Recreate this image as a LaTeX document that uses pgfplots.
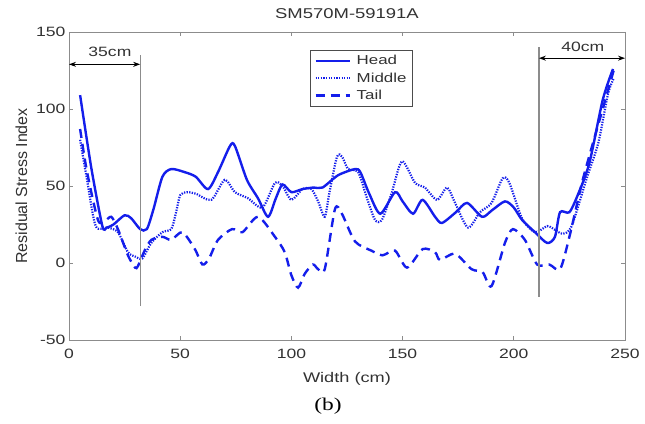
\documentclass[border=0pt]{standalone}
\usepackage{pgfplots}
\pgfplotsset{compat=1.18}
\usepackage{fontspec}
\setmainfont{Liberation Sans}[FakeStretch=1.3]
\newfontfamily\ylabfont{Liberation Sans}
\newfontfamily\capfont{Liberation Serif}[FakeStretch=1.3]
\usetikzlibrary{calc,arrows.meta}
\definecolor{lineblue}{RGB}{20,30,235}
\definecolor{axgray}{RGB}{140,140,140}
\definecolor{txtgray}{RGB}{50,50,50}

\begin{document}
\begin{tikzpicture}
\begin{axis}[
  scale only axis, width=556pt, height=308pt,
  xmin=0, xmax=250, ymin=-50, ymax=150,
  xtick={0,50,...,250}, ytick={-50,0,...,150},
  /pgf/number format/assume math mode=true,
  tick align=inside, major tick length=4pt,
  axis line style={axgray, line width=0.8pt},
  tick style={axgray, line width=0.7pt},
  tick label style={font=\fontsize{13.5}{15}\selectfont, text=txtgray},
  xticklabel style={yshift=-6pt},
  clip=false,
  title={SM570M-59191A},
  title style={at={(axis description cs:0.5,1.0227)}, anchor=base, font=\fontsize{14.2}{16}\selectfont, inner sep=0pt, text=txtgray},
  xlabel={Width (cm)},
  xlabel style={at={(axis description cs:0.5,-0.1364)}, anchor=base, font=\fontsize{14}{16}\selectfont, inner sep=0pt, text=txtgray},
  ylabel={\ylabfont Residual Stress Index},
  ylabel style={at={(axis description cs:-0.0755,0.5)}, anchor=base, font=\fontsize{16}{18}\selectfont, inner sep=0pt, text=txtgray},
  legend style={at={(axis description cs:0.4335,0.9416)}, anchor=north west,
    draw=black!70, line width=0.6pt, fill=white, font=\fontsize{13}{15}\selectfont,
    inner xsep=4pt, inner ysep=3pt, row sep=2.5pt, text=txtgray},
  legend cell align=left,
  /tikz/every odd column/.append style={column sep=4pt},
  legend image code/.code={\draw[#1] (0pt,0pt) -- (34pt,0pt);},
  every axis plot/.append style={lineblue, smooth, tension=0.45},
]
% Head
\addplot[line width=2.4pt] coordinates {
(5,109)(10,62)(15,24)(17,23)(20,25)(25,31)(28,29)(32,22)(35,22)(38,35)(42,56)(46,61)
(52,59)(57,56)(62.5,48)(67,59)(72.4,76)(74.6,76)(80,54)(85,42)(89.5,30)(93,42)(96,51)
(100,46)(105,48)(110,49)(114,49)(121,57)(128.6,61)(131,59)(135,45)(140,32)(146.6,46)
(150,40)(154.7,32)(159,41)(164.6,30)(167.7,26)(174,33)(179,39)(185.7,30)(190,34)
(196,40)(200,36)(203.7,28)(209.5,20)(215,13)(218.5,17)(220.8,33)(225,33)(229,45)
(234,65)(240,106)(244.6,126)};
\addlegendentry{Head}
% Middle
\addplot[line width=2.2pt, dash pattern=on 1.3pt off 1.3pt] coordinates {
(5,80)(8,55)(12,24)(17.5,23)(22,20)(26.5,7)(30,4)(33,3)(37,13)(42,20)(46,22)(48,32)
(50,44)(53,46)(57,45)(64,41)(70,54)(74.6,46)(80.5,42)(87,36)(92.6,52)(96,50)(100,41)
(105,48)(109,48)(112,40)(115,30)(117,45)(120.5,69)(122.8,69)(125.5,61)(130,59)(134,42)
(137.6,28)(140.7,28)(145,45)(149.7,66)(155.6,52)(160,49)(165.5,41)(170,49)(173.6,39)
(179.4,23)(184.8,33)(190,39)(195,55)(198,52)(203.7,29)(209.5,20)(215,24)(218,22)
(222,19)(226,24)(233,56)(238,78)(242.4,110)(245,120)};
\addlegendentry{Middle}
% Tail
\addplot[line width=2.4pt, dash pattern=on 9pt off 6pt] coordinates {
(5,87)(8,60)(13,28)(16,27)(19,30)(22,22)(26.5,5)(29.7,-3)(31,-2)(34,8)(37,15)(42,17)
(46,15)(51,20)(56.6,9)(60,-1)(63,3)(67,15)(73.3,22)(78,20)(85,30)(92.6,17)(97,7)
(100,-8)(103,-16)(106,-7)(109.7,-1)(112,-4)(115,-4)(119.6,35)(122.7,32)(128.6,14)
(136,8)(141,5)(146.6,8)(152,-3)(159,9)(164.6,7)(166.8,2)(173.6,6)(181,-4)(186,-6)
(190,-15)(196,13)(199.6,22)(205,15)(210.5,-1)(216,-1)(220.8,-4)(225,17)(231,54)
(237.4,87)(245.5,128)};
\addlegendentry{Tail}
% annotations
\draw[axgray, line width=1.2pt] (axis cs:32,-28) -- (axis cs:32,135);
\draw[axgray, line width=1.2pt] (axis cs:211.3,-22) -- (axis cs:211.3,140);
\draw[black, line width=0.9pt, {Stealth[length=7pt,width=5pt]}-{Stealth[length=7pt,width=5pt]}] (axis cs:0,129) -- (axis cs:32,129);
\draw[black, line width=0.9pt, {Stealth[length=7pt,width=5pt]}-{Stealth[length=7pt,width=5pt]}] (axis cs:211.3,133) -- (axis cs:250,133);
\node[anchor=base, font=\fontsize{13.5}{15}\selectfont, inner sep=0pt, text=txtgray] at (axis cs:18.4,134) {35cm};
\node[anchor=base, font=\fontsize{13.5}{15}\selectfont, inner sep=0pt, text=txtgray] at (axis cs:231,137.5) {40cm};
\node[anchor=base, font=\capfont\fontsize{18}{20}\selectfont, inner sep=0pt] at (axis description cs:0.4658,-0.2273) {(b)};
\end{axis}
\pgfresetboundingbox
\path[use as bounding box] ($(current axis.south west)+(-69pt,-84pt)$) rectangle ($(current axis.north east)+(20pt,32pt)$);
\end{tikzpicture}
\end{document}
